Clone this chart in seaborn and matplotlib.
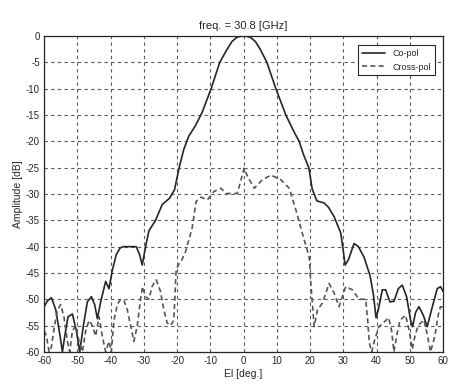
import numpy as np
import pandas as pd
import matplotlib
matplotlib.use("Agg")
import matplotlib.pyplot as plt
import seaborn as sns

# Co-pol pattern
co_el = [-60, -59, -57.8, -56.5, -55.2, -54.5, -53.8, -52.8, -51.5, -50.3,
         -49.3, -48.2, -47, -45.8, -44.8, -44, -43, -41.5, -40.5, -39.5,
         -38.3, -37.2, -36.3, -34, -32.3, -31.3, -30.5, -29.5, -28.5, -26.5,
         -24.5, -22.3, -20.8, -19.4, -18, -16.5, -14.5, -12.5, -9.8, -7.2,
         -5, -3.5, -2, -0.8, 0.8, 2, 3.5, 5, 7, 9.7, 12.7,
         15, 16.7, 18, 19.6, 20.6, 22, 24.2, 25.5, 27.2, 29.2,
         30, 30.5, 31.5, 33.2, 34.5, 36.2, 38, 39, 39.8, 40.5,
         41.7, 42.7, 44, 45.2, 46.5, 47.7, 49, 50.2, 50.8, 51.7,
         52.7, 54, 55.2, 56.5, 58.2, 59.2, 60]
co_amp = [-51.4, -50.3, -49.7, -52, -57, -60, -57, -53.3, -52.8, -56,
          -60, -55, -50.5, -49.5, -51, -53.7, -50.5, -46.6, -48, -44.5,
          -41.5, -40.3, -40, -40, -40, -41.5, -43.5, -40, -37, -35,
          -32, -30.8, -29.2, -25, -21.5, -19, -17, -14.5, -10, -5,
          -2.5, -1, -0.2, 0, 0, -0.2, -1, -2.5, -5, -10, -15,
          -18, -20, -22.5, -25, -29, -31.3, -31.7, -32.5, -34.3, -37.4,
          -41, -43.5, -42.5, -39.4, -40, -42, -45.5, -49, -53.5, -52,
          -48.2, -48.2, -50.5, -50.4, -48, -47.3, -49.5, -54, -55.2, -52.5,
          -51.4, -53, -55.2, -52, -48, -47.6, -48.5]

# Cross-pol pattern
cx_el = [-60, -59.3, -58.5, -57.8, -57, -56, -55, -54, -53, -52.3,
         -51.5, -50.5, -49.5, -48.5, -47.5, -46.5, -45.5, -44.5, -43.5, -42.5,
         -41.5, -40.5, -39.8, -39, -38, -37, -36, -35, -34, -33,
         -32, -31, -30.4, -29.5, -28.5, -27.5, -26.3, -25, -24, -23,
         -22, -21, -20.3, -19.5, -18.8, -17.5, -15.5, -14.3, -12.8, -10.9,
         -8.9, -6.8, -5.3, -3.5, -1.9, -0.8, 0.15, 1.2, 3.2, 5.6,
         8.2, 11.2, 13.7, 15.7, 18.2, 19.7, 20.2, 21.2, 22.2, 23.7,
         25.7, 27.2, 28.7, 30.7, 32.7, 34.7, 36.7, 37.3, 37.8, 38.5,
         39.5, 40.7, 42, 43.6, 44.5, 45.2, 46, 47, 48.7, 49.8,
         50.7, 51.5, 52.5, 54.2, 55.3, 56.2, 57.5, 58.5, 59.2, 60]
cx_amp = [-56, -57, -60, -59, -55.5, -52, -51, -53.5, -58, -60,
          -56, -55, -58, -60, -56, -54, -55, -57, -53.3, -57,
          -60, -58, -60, -54, -51, -50, -50.2, -52, -55, -58,
          -55, -50, -47.6, -49.5, -50, -47.5, -46.3, -48.5, -52, -54.5,
          -55, -54, -44.4, -43.3, -42.8, -41, -36.5, -31.4, -30.6, -31.1,
          -29.5, -28.9, -29.9, -29.9, -29.9, -27.3, -25.1, -26.7, -28.9, -27.3,
          -26.4, -27.3, -28.9, -33, -38.7, -41.9, -47, -55.2, -52, -50.7,
          -47, -48.8, -51.4, -47.6, -48.2, -50, -50, -54, -58.3, -60,
          -57.5, -55.2, -54.5, -53.5, -56, -60, -57, -54, -53, -56,
          -59.5, -57, -55, -53.9, -57, -60, -57, -53, -51.4, -51.5]

labels = ["Co-pol", "Cross-pol"]
x_ticks = np.arange(-60, 61, 10)
y_ticks = np.arange(-60, 1, 5)

df = pd.concat([
    pd.DataFrame({"El": co_el, "Amp": co_amp, "pol": labels[0]}),
    pd.DataFrame({"El": cx_el, "Amp": cx_amp, "pol": labels[1]}),
])

sns.set_style("white")
plt.rcParams["font.family"] = ["Liberation Sans", "DejaVu Sans"]
plt.rcParams["axes.unicode_minus"] = False

fig = plt.figure(figsize=(4.55, 3.85), dpi=100)
ax = fig.add_axes([0.097, 0.086, 0.877, 0.82])

ink = "#262626"
sns.lineplot(data=df, x="El", y="Amp", hue="pol", style="pol",
             palette={labels[0]: ink, labels[1]: "#555555"},
             dashes={labels[0]: "", labels[1]: (3, 2)},
             sort=False, estimator=None, linewidth=1.2, ax=ax)

ax.set_xlim(-60, 60)
ax.set_ylim(-60, 0)
ax.set_xticks(x_ticks)
ax.set_yticks(y_ticks)
ax.tick_params(direction="in", labelsize=7, colors=ink, length=3, pad=3)
ax.grid(True, color="#5a5a5a", linestyle=(0, (3, 3)), linewidth=0.8)
for s in ax.spines.values():
    s.set_color(ink)
    s.set_linewidth(0.9)

ax.set_title("freq. = 30.8 [GHz]", fontsize=8, color=ink, pad=5)
ax.set_xlabel("El [deg.]", fontsize=7.5, color=ink, labelpad=2)
ax.set_ylabel("Amplitude [dB]", fontsize=7.5, color=ink, labelpad=2)

leg = ax.legend(loc="upper right", fontsize=6.5, frameon=True, fancybox=False,
                edgecolor=ink, framealpha=1, borderpad=0.4, handlelength=2.6,
                bbox_to_anchor=(0.99, 0.985))
leg.get_frame().set_linewidth(0.8)
for t in leg.get_texts():
    t.set_color(ink)

fig.savefig("out.png", dpi=100, facecolor="white")
